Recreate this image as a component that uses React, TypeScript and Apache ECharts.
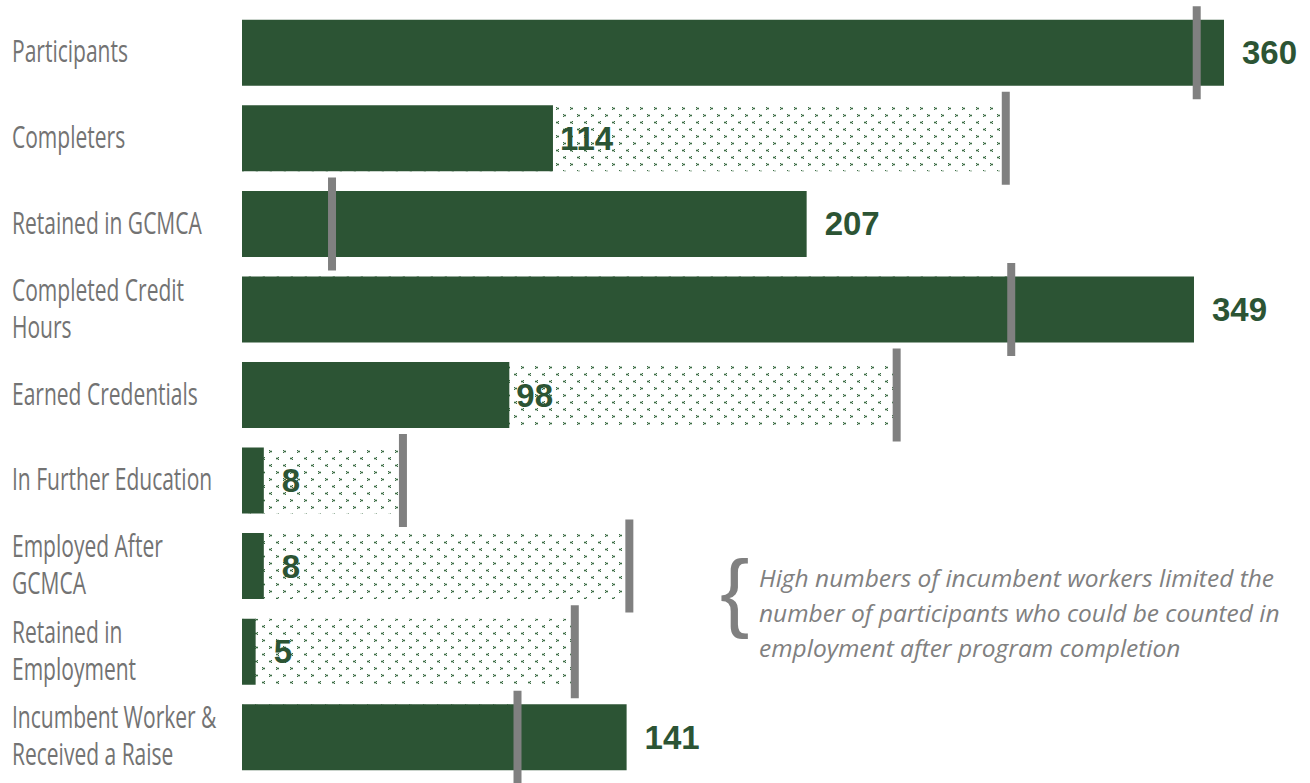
import React, { useEffect, useRef } from "react";
import * as echarts from "echarts";

const categories = [
  "Participants",
  "Completers",
  "Retained in GCMCA",
  "Completed Credit\nHours",
  "Earned Credentials",
  "In Further Education",
  "Employed After\nGCMCA",
  "Retained in\nEmployment",
  "Incumbent Worker &\nReceived a Raise",
];
const actualValues = [360, 114, 207, 349, 98, 8, 8, 5, 141];
const targetValues = [350, 280, 33, 282, 240, 59, 142, 122, 101];
const noteLines = [
  "High numbers of incumbent workers limited the",
  "number of participants who could be counted in",
  "employment after program completion",
];

const GREEN = "#2c5434";
const GREY = "#808080";
const LABEL_FONT = "'Open Sans', 'Liberation Sans', sans-serif";
const LABEL_SIZE = 31;

function makePattern(): HTMLCanvasElement {
  const c = document.createElement("canvas");
  c.width = 14;
  c.height = 28;
  const ctx = c.getContext("2d")!;
  ctx.fillStyle = "#ffffff";
  ctx.fillRect(0, 0, 14, 28);
  const mark = (x: number, y: number, right: boolean) => {
    ctx.fillStyle = "#c3d4c6";
    ctx.fillRect(x, y, 3, 3);
    ctx.fillStyle = "#3d6c45";
    if (right) {
      ctx.fillRect(x, y, 1, 1);
      ctx.fillRect(x + 1, y + 1, 2, 1);
      ctx.fillRect(x, y + 2, 1, 1);
    } else {
      ctx.fillRect(x + 2, y, 1, 1);
      ctx.fillRect(x, y + 1, 2, 1);
      ctx.fillRect(x + 2, y + 2, 1, 1);
    }
  };
  mark(3, 2, true);
  mark(10, 9, false);
  mark(3, 16, false);
  mark(10, 23, true);
  return c;
}

function labelScale(): number {
  const c = document.createElement("canvas");
  const ctx = c.getContext("2d")!;
  ctx.font = `${LABEL_SIZE}px ${LABEL_FONT}`;
  const w = ctx.measureText("Participants").width;
  return w > 0 ? 116 / w : 0.75;
}

export default function App() {
  const ref = useRef<HTMLDivElement>(null);
  useEffect(() => {
    if (!ref.current) return;
    const chart = echarts.init(ref.current, null, { renderer: "svg" });
    const pattern = makePattern();
    const tight = new Set([1, 4]);
    const option: any = {
      animation: false,
      backgroundColor: "#ffffff",
      grid: { left: 242, right: 86, top: 10, bottom: 3, containLabel: false },
      xAxis: { type: "value", min: 0, max: 360, show: false },
      yAxis: {
        type: "category",
        data: categories,
        inverse: true,
        axisLine: { show: false },
        axisTick: { show: false },
        splitLine: { show: false },
        axisLabel: { show: false },
      },
      series: [
        {
          type: "bar",
          name: "target",
          data: targetValues,
          barWidth: 66,
          barGap: "-100%",
          itemStyle: { color: { image: pattern, repeat: "repeat" } },
          z: 1,
          silent: true,
        },
        {
          type: "bar",
          name: "actual",
          data: actualValues.map((v, i) => ({
            value: v,
            label: { distance: tight.has(i) ? 7 : 18 },
          })),
          barWidth: 66,
          barGap: "-100%",
          itemStyle: { color: GREEN },
          z: 2,
          label: {
            show: true,
            position: "right",
            color: GREEN,
            fontSize: 33,
            fontWeight: "bold",
            fontFamily: "'Liberation Sans', sans-serif",
          },
        },
        {
          type: "scatter",
          name: "marker",
          data: targetValues.map((t, i) => [t, categories[i]]),
          symbol: "rect",
          symbolSize: [8, 93],
          itemStyle: { color: GREY, opacity: 1 },
          z: 5,
        },
      ],
    };
    chart.setOption(option);

    const sx = labelScale();
    const catTexts = categories.map((cat, i) => {
      const y = chart.convertToPixel({ yAxisIndex: 0 }, cat) as number;
      return {
        id: "cat" + i,
        type: "text",
        x: 12,
        y: y - 2,
        scaleX: sx,
        scaleY: 1,
        style: {
          text: cat,
          x: 0,
          y: 0,
          align: "left",
          verticalAlign: "middle",
          fontSize: LABEL_SIZE,
          lineHeight: 37,
          fontFamily: LABEL_FONT,
          fill: "#737373",
        },
      };
    });
    chart.setOption({
      graphic: [
        ...catTexts,
        {
          id: "brace",
          type: "text",
          left: 720,
          top: 546,
          style: {
            text: "{",
            fontSize: 88,
            fontFamily: "'Liberation Sans', sans-serif",
            fill: GREY,
          },
        },
        {
          id: "note",
          type: "text",
          left: 759,
          top: 560,
          style: {
            text: noteLines.join("\n"),
            fontSize: 24.5,
            lineHeight: 35,
            fontStyle: "italic",
            fontFamily: "'Open Sans', sans-serif",
            fill: GREY,
          },
        },
      ],
    });
    return () => chart.dispose();
  }, []);
  return (
    <div
      ref={ref}
      style={{ position: "absolute", left: 0, top: 0, width: 1310, height: 783 }}
    />
  );
}
